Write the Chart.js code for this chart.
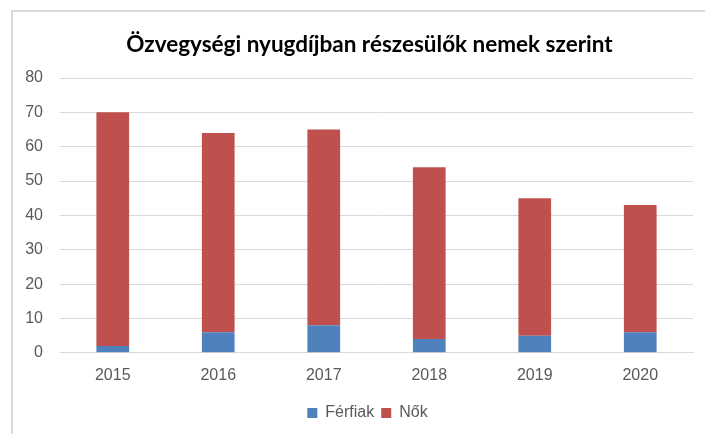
<!DOCTYPE html>
<html>
<head>
<meta charset="utf-8">
<script src="https://cdn.jsdelivr.net/npm/chart.js@4/dist/chart.umd.min.js"></script>
<style>
  html, body { margin: 0; padding: 0; background: #fff; overflow: hidden; }
  #wrap { position: relative; width: 705px; height: 434px; }
  #frame { position: absolute; left: 11px; top: 10px; width: 720px; height: 460px;
           border: 2px solid #d9d9d9; box-sizing: border-box; }
  canvas { position: absolute; left: 0; top: 0; }
</style>
</head>
<body>
<div id="wrap">
  <div id="frame"></div>
  <canvas id="c" width="705" height="434"></canvas>
</div>
<script>
// Özvegységi nyugdíjban részesülők, ezer fő
const years = ['2015', '2016', '2017', '2018', '2019', '2020'];
const ferfiak = [2, 6, 8, 4, 5, 6];
const nok = [68, 58, 57, 50, 40, 37];
const yTicks = [0, 10, 20, 30, 40, 50, 60, 70, 80];

const labelFont = { family: '"Liberation Sans", Arial, sans-serif', size: 16 };
const gray = '#595959';

// Nudge the title and legend blocks sideways so they sit centred on the frame
const centreBlocks = {
  id: 'centreBlocks',
  afterLayout(chart) {
    const shift = (box, dx) => { if (box) { box.left += dx; box.right += dx; } };
    shift(chart.titleBlock, 23);
    shift(chart.legend, 21);
  }
};

new Chart(document.getElementById('c'), {
  type: 'bar',
  data: {
    labels: years,
    datasets: [
      { label: 'Férfiak', data: ferfiak, backgroundColor: '#4F81BD',
        barPercentage: 0.31, categoryPercentage: 1 },
      { label: 'Nők', data: nok, backgroundColor: '#C0504D',
        barPercentage: 0.31, categoryPercentage: 1 }
    ]
  },
  plugins: [centreBlocks],
  options: {
    responsive: false,
    animation: false,
    devicePixelRatio: 1,
    layout: { padding: { left: 0, right: 12, top: 0, bottom: 3 } },
    plugins: {
      title: {
        display: true,
        text: 'Özvegységi nyugdíjban részesülők nemek szerint',
        color: '#000',
        font: { family: 'Lato, "Liberation Sans", sans-serif', size: 22.5, weight: 'bold', lineHeight: 1.2 },
        padding: { top: 31, bottom: 20 }
      },
      legend: {
        position: 'bottom',
        labels: {
          boxWidth: 10, boxHeight: 10, padding: 7,
          color: gray, font: labelFont
        }
      },
      tooltip: { enabled: false }
    },
    scales: {
      x: {
        stacked: true,
        grid: { display: false, drawTicks: false },
        border: { display: true, color: '#d9d9d9' },
        ticks: { color: gray, font: labelFont, padding: 13, maxRotation: 0 }
      },
      y: {
        stacked: true,
        min: 0, max: 80,
        afterBuildTicks: (axis) => { axis.ticks = yTicks.map(v => ({ value: v })); },
        afterFit: (axis) => { axis.width = 60; },
        grid: { color: '#d9d9d9', drawTicks: false },
        border: { display: false },
        ticks: { color: gray, font: labelFont, padding: 17 }
      }
    }
  }
});
</script>
</body>
</html>
